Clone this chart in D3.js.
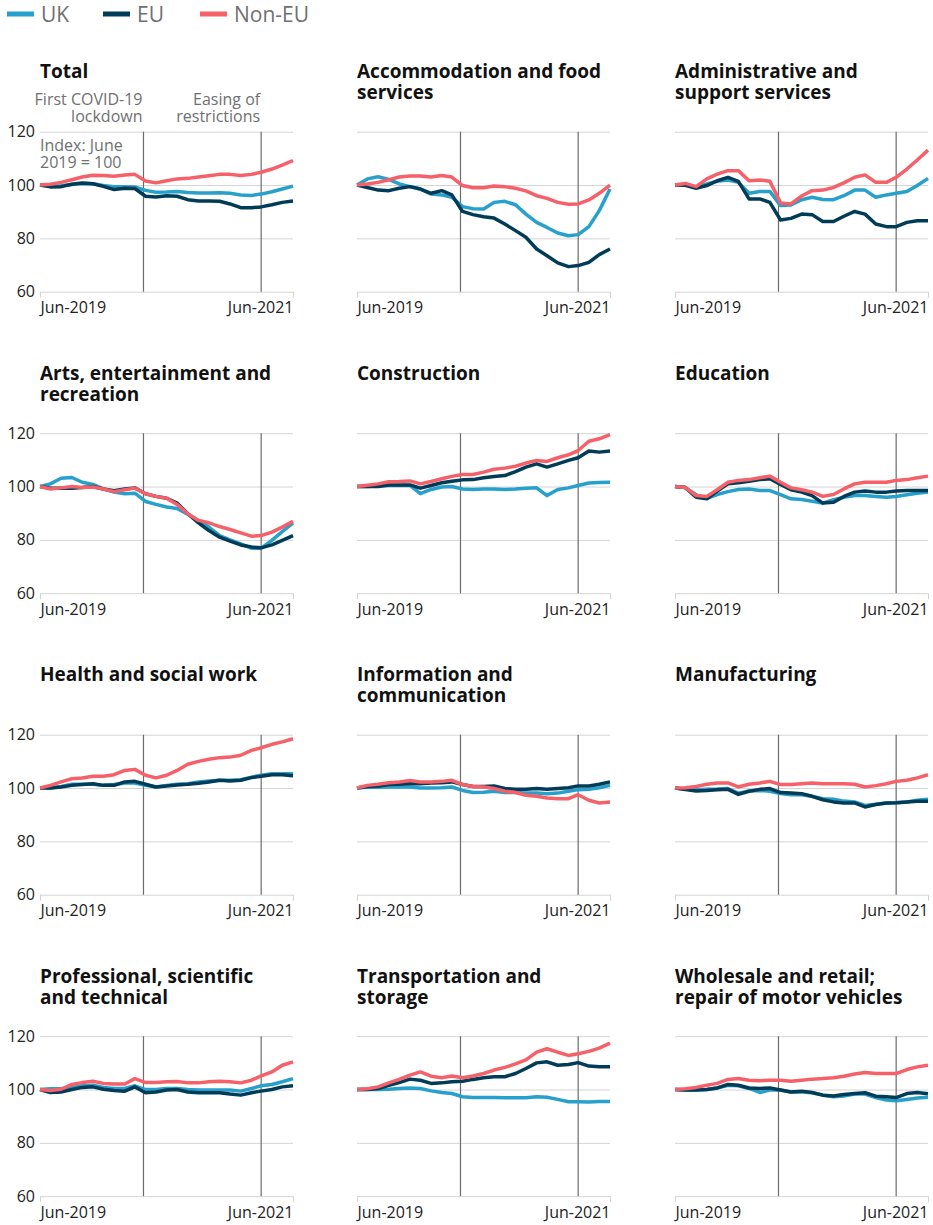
<!DOCTYPE html>
<html>
<head>
<meta charset="utf-8">
<script src="https://cdn.jsdelivr.net/npm/d3@7"></script>
<style>
  html, body { margin: 0; padding: 0; background: #fff; }
  svg { display: block; font-family: "Open Sans", "Noto Sans", sans-serif; }
</style>
</head>
<body>
<svg id="chart" width="933" height="1225"></svg>
<script>
// ---------- DATA ----------
const months = ["2019-06","2019-07","2019-08","2019-09","2019-10","2019-11","2019-12",
  "2020-01","2020-02","2020-03","2020-04","2020-05","2020-06","2020-07","2020-08","2020-09",
  "2020-10","2020-11","2020-12","2021-01","2021-02","2021-03","2021-04","2021-05","2021-06"];
const xTickLabels = ["2019-06", "2021-06"];
const yTicks = [60, 80, 100, 120];
const seriesNames = ["UK", "EU", "Non-EU"];
const seriesColors = ["#27a0cc", "#003c57", "#f66068"];
const eventDates = ["2020-03-26", "2021-03-01"];
const eventLabels = [["First COVID-19", "lockdown"], ["Easing of", "restrictions"]];
const indexNote = ["Index: June", "2019 = 100"];

const sectors = [
  "Total", "Accommodation and food|services", "Administrative and|support services",
  "Arts, entertainment and|recreation", "Construction", "Education",
  "Health and social work", "Information and|communication", "Manufacturing",
  "Professional, scientific|and technical", "Transportation and|storage",
  "Wholesale and retail;|repair of motor vehicles"
];

const ukTotal = [100,99.6,99.7,100.2,100.6,100.5,99.8,99.4,99.4,99.3,98.0,97.3,97.4,97.6,97.2,97.0,97.0,97.1,96.9,96.3,96.1,96.6,97.5,98.5,99.6];
const euTotal = [100,99.3,99.4,100.3,100.8,100.5,99.5,98.3,98.8,98.7,95.8,95.5,96.0,95.8,94.5,94.0,94.0,93.9,92.9,91.5,91.5,91.8,92.6,93.5,94.0];
const nonEuTotal = [100,100.3,101.0,102.0,103.0,103.7,103.6,103.3,103.8,104.0,101.5,100.8,101.6,102.3,102.5,103.0,103.5,104.0,104.0,103.6,104.0,104.8,106.0,107.5,109.2];

const ukAccom = [100,102.3,103.1,102.1,100.4,99.4,98.5,96.6,96.3,95.4,91.9,91.1,91.0,93.5,93.9,92.6,89.1,86.0,84.1,82.0,81.0,81.4,84.4,90.4,98.5];
const euAccom = [100,99.1,98.1,97.9,98.8,99.4,98.5,96.9,97.9,96.3,90.1,88.9,88.1,87.6,85.4,82.9,80.4,76.0,73.5,70.8,69.4,69.8,71.0,73.9,76.0];
const nonEuAccom = [100,100.4,101.0,102.0,103.0,103.4,103.4,103.0,103.6,103.0,99.8,99.0,99.0,99.6,99.4,98.8,97.8,96.0,95.0,93.5,92.8,92.9,94.4,96.9,100.0];

const ukAdmin = [100,100.2,99.1,100.4,101.4,101.9,101.0,96.9,97.6,97.6,92.3,92.5,94.5,95.4,94.6,94.5,96.0,98.1,98.1,95.4,96.3,96.9,97.6,99.8,102.5];
const euAdmin = [100,99.9,98.8,99.8,101.6,102.9,101.4,94.8,94.8,93.5,86.9,87.5,89.1,88.9,86.3,86.3,88.3,90.1,89.1,85.4,84.4,84.4,86.0,86.6,86.6];
const nonEuAdmin = [100,100.6,99.4,102.3,104.1,105.4,105.4,101.6,101.9,101.4,93.3,92.9,95.9,97.9,98.1,99.1,100.8,102.9,103.8,101.0,101.0,102.9,106.0,109.4,113.1];

const ukArts = [100,101.0,103.1,103.4,101.6,100.8,99.1,97.9,97.3,97.5,94.4,93.3,92.3,91.8,89.6,87.3,84.8,81.6,80.0,78.5,76.9,76.9,79.8,83.1,86.4];
const euArts = [100,99.4,99.4,99.4,99.6,100.0,99.1,98.4,99.1,99.5,97.3,96.3,95.6,93.8,89.8,86.4,83.5,81.0,79.5,78.1,77.3,77.0,78.1,79.8,81.6];
const nonEuArts = [100,99.1,99.5,100.0,99.6,99.8,99.1,98.1,98.8,99.4,97.3,96.3,95.6,93.3,89.8,87.3,86.4,85.0,83.9,82.6,81.4,81.6,82.9,84.8,87.0];

const ukConstr = [100,100,100.3,100.4,100.4,100.4,97.3,98.9,99.8,100.0,99.1,98.9,99.1,99.1,98.9,99.1,99.4,99.5,96.6,98.9,99.5,100.4,101.3,101.5,101.6];
const euConstr = [100,100,100,100.6,100.6,100.6,99.4,100.4,101.4,102.0,102.5,102.6,103.3,103.8,104.1,105.6,107.3,108.5,107.3,108.5,109.8,110.8,113.3,112.9,113.3];
const nonEuConstr = [100,100.5,101.0,101.8,101.9,102.1,101.0,101.9,102.9,103.8,104.5,104.5,105.4,106.5,106.9,107.6,108.8,109.8,109.4,110.8,111.9,113.5,117.0,117.9,119.5];

const ukEduc = [100,99.6,96.9,95.6,97.0,98.1,98.9,99.1,98.5,98.5,97.0,95.4,95.1,94.5,93.8,95.1,96.0,96.6,96.6,96.3,96.0,96.3,96.9,97.5,97.9];
const euEduc = [100,99.6,96.0,95.4,98.3,101.0,101.4,102.0,102.6,102.9,100.8,98.8,97.9,96.6,93.8,94.1,96.3,97.9,98.3,97.9,97.9,98.3,98.5,98.5,98.5];
const nonEuEduc = [100,99.6,96.6,96.3,98.8,101.6,102.3,102.6,103.3,103.9,101.6,99.5,98.8,97.9,96.3,97.0,99.1,101.0,101.6,101.6,101.6,102.3,102.6,103.3,103.9];

const ukHealth = [100,100,100.6,101.4,101.4,101.4,101.0,101.3,101.9,101.9,101.0,100.4,101.0,101.4,101.6,102.3,102.6,102.9,102.9,103.1,104.1,104.8,105.4,105.4,105.4];
const euHealth = [100,100,100.4,101.0,101.3,101.6,101.0,101.0,102.3,102.5,101.4,100.4,100.8,101.1,101.4,101.8,102.3,102.9,102.6,102.9,103.9,104.4,105.0,105.0,104.6];
const nonEuHealth = [100,101.0,102.3,103.5,103.8,104.4,104.4,105.0,106.6,107.0,104.8,103.8,104.8,106.6,108.9,110.0,110.8,111.4,111.6,112.3,114.1,115.1,116.4,117.3,118.5];

const ukInfo = [100,100.3,100.3,100.4,100.4,100.4,100.0,100.0,100.1,100.4,99.1,98.3,98.4,98.8,98.3,98.3,98.1,98.1,97.9,98.1,98.8,99.4,99.5,100.1,101.0];
const euInfo = [100,100.6,100.8,101.3,101.4,101.6,101.6,101.9,102.0,102.3,101.3,100.6,100.6,100.8,99.8,99.5,99.5,99.8,99.5,99.8,100.1,100.8,100.8,101.4,102.3];
const nonEuInfo = [100,101.0,101.4,102.0,102.3,102.8,102.3,102.3,102.5,102.9,101.3,100.6,100.4,99.8,98.8,98.3,97.3,96.9,96.3,96.0,96.0,97.5,95.4,94.4,94.8];

const ukManuf = [100,99.6,99.4,99.5,99.6,99.8,98.1,98.9,99.1,98.8,97.9,97.5,97.5,96.9,96.0,95.8,95.1,94.8,93.5,93.9,94.4,94.5,94.8,95.4,95.8];
const euManuf = [100,99.4,98.9,99.1,99.4,99.5,97.6,98.8,99.5,99.8,98.3,98.1,97.9,96.9,95.6,94.8,94.4,94.4,92.9,93.8,94.4,94.5,94.8,95.0,95.0];
const nonEuManuf = [100,100.1,100.6,101.4,101.9,101.9,100.4,101.4,101.9,102.5,101.3,101.3,101.6,101.9,101.6,101.6,101.6,101.4,100.4,100.9,101.6,102.5,102.9,103.8,105.0];

const ukProf = [100,100.3,100.3,100.8,101.4,101.6,100.8,100.4,100.4,101.4,100.0,100.0,100.4,100.4,100.0,99.8,99.8,99.8,99.8,99.4,100.4,101.4,101.9,102.9,104.1];
const euProf = [100,98.9,99.1,100.0,100.8,101.0,100.1,99.6,99.4,101.0,98.8,99.1,99.8,100.0,99.1,98.8,98.8,98.8,98.3,97.9,98.8,99.4,100.0,101.0,101.4];
const nonEuProf = [100,99.6,100.1,101.9,102.6,103.1,102.3,102.1,102.1,104.1,102.6,102.6,102.9,103.0,102.5,102.5,102.9,103.1,102.9,102.5,103.5,105.1,106.6,109.1,110.4];

const ukTransp = [100,100,100,100.1,100.4,100.6,100.4,99.5,98.9,98.5,97.3,97.0,97.0,97.0,96.9,96.9,96.9,97.3,97.1,96.3,95.4,95.4,95.3,95.5,95.5];
const euTransp = [100,100,100.4,101.6,102.6,103.9,103.5,102.3,102.5,102.9,103.1,103.8,104.4,104.8,104.8,106.0,107.9,110.0,110.4,109.1,109.4,110.1,108.8,108.5,108.5];
const nonEuTransp = [100,100.3,101.0,102.5,103.8,105.4,106.6,105.0,104.4,105.1,104.4,105.1,106.0,107.3,108.3,109.6,111.1,114.0,115.3,114.0,112.8,113.4,114.3,115.5,117.4];

const ukWhole = [100,99.8,99.8,100.0,100.6,101.6,101.4,100.4,98.9,99.8,99.8,99.1,99.1,98.8,97.9,97.3,97.6,98.3,98.3,97.0,96.1,95.8,96.3,96.8,97.1];
const euWhole = [100,99.8,99.8,100.0,100.6,101.9,101.6,100.6,100.4,100.6,99.8,99.1,99.4,98.9,97.9,97.6,98.1,98.5,98.8,97.5,97.3,97.0,98.5,98.9,98.4];
const nonEuWhole = [100,100.3,100.8,101.6,102.3,103.8,104.1,103.5,103.3,103.5,103.5,103.1,103.5,103.9,104.1,104.4,105.0,105.8,106.4,106.0,106.0,106.0,107.5,108.5,109.1];

// table built from the named arrays
const panelSeries = [
  [ukTotal, euTotal, nonEuTotal], [ukAccom, euAccom, nonEuAccom], [ukAdmin, euAdmin, nonEuAdmin],
  [ukArts, euArts, nonEuArts], [ukConstr, euConstr, nonEuConstr], [ukEduc, euEduc, nonEuEduc],
  [ukHealth, euHealth, nonEuHealth], [ukInfo, euInfo, nonEuInfo], [ukManuf, euManuf, nonEuManuf],
  [ukProf, euProf, nonEuProf], [ukTransp, euTransp, nonEuTransp], [ukWhole, euWhole, nonEuWhole]
];

// ---------- LAYOUT ----------
const svg = d3.select("#chart");
const parseMonth = d3.timeParse("%Y-%m");
const parseDay = d3.timeParse("%Y-%m-%d");
const dates = months.map(parseMonth);
const colX = [40, 357, 675];
const plotW = 253, plotH = 160;
const rowTop = r => 131.7 + 301.5 * r;
const textGrey = "#707070";

const x = d3.scaleTime().domain(d3.extent(dates)).range([0, plotW]);
const y = d3.scaleLinear().domain([60, 120]).range([plotH, 0]);
const line = d3.line().x((d, i) => x(dates[i])).y(d => y(d));

// multi-line text as a single text element with tspans
function multiText(parent, lines, xPos, yPos, lh) {
  const t = parent.append("text").attr("x", xPos).attr("y", yPos);
  lines.forEach((l, k) => {
    t.append("tspan").attr("x", xPos).attr("dy", k === 0 ? 0 : lh).text(l);
  });
  return t;
}

// legend
const legend = svg.append("g").attr("transform", "translate(0,14)");
const legendX = [7, 103, 200];
seriesNames.forEach((name, i) => {
  const g = legend.append("g").attr("transform", `translate(${legendX[i]},0)`);
  g.append("line").attr("x1", 0).attr("x2", 27).attr("y1", 0).attr("y2", 0)
    .attr("stroke", seriesColors[i]).attr("stroke-width", 5);
  g.append("text").attr("x", 34).attr("y", 7.5).attr("font-size", 21)
    .attr("fill", textGrey).text(name);
});

sectors.forEach((title, p) => {
  const col = p % 3, row = Math.floor(p / 3);
  const g = svg.append("g").attr("transform", `translate(${colX[col]},${rowTop(row)})`);

  // title
  multiText(g, title.split("|"), 0, -53.5, 21)
    .attr("font-size", 19).attr("font-weight", 700).attr("fill", "#111");

  // y gridlines / labels
  const yAxis = d3.axisLeft(y).tickValues(yTicks).tickSize(-plotW).tickPadding(5);
  const yg = g.append("g").call(yAxis);
  yg.select(".domain").remove();
  yg.selectAll(".tick line").attr("stroke", "#d4d4d4").attr("stroke-width", 1);
  yg.selectAll(".tick text").attr("font-size", 16).attr("fill", "#222")
    .attr("font-family", "'Open Sans', sans-serif");
  if (col !== 0) yg.selectAll(".tick text").remove();

  // x axis
  const xAxis = d3.axisBottom(x).tickValues(xTickLabels.map(parseMonth))
    .tickFormat(d3.timeFormat("%b-%Y")).tickSize(6).tickPadding(4);
  const xg = g.append("g").attr("transform", `translate(0,${plotH})`).call(xAxis);
  xg.select(".domain").remove();
  xg.selectAll(".tick line").attr("stroke", "#d4d4d4");
  xg.selectAll(".tick text").attr("font-size", 16).attr("fill", "#222")
    .attr("font-family", "'Open Sans', sans-serif")
    .attr("text-anchor", (d, i) => i === 0 ? "start" : "end");

  // event lines
  eventDates.forEach((ed, k) => {
    const ex = x(parseDay(ed));
    g.append("line").attr("x1", ex).attr("x2", ex).attr("y1", y(120)).attr("y2", y(60))
      .attr("stroke", "#6b6b6b").attr("stroke-width", 1.2);
    if (p === 0) {
      multiText(g, eventLabels[k], ex - 1, -27, 17)
        .attr("text-anchor", "end").attr("font-size", 16).attr("fill", textGrey);
    }
  });

  if (p === 0) {
    multiText(g, indexNote, 0, 19.5, 17).attr("font-size", 16).attr("fill", textGrey);
  }

  // series lines
  panelSeries[p].forEach((vals, s) => {
    g.append("path").datum(vals).attr("d", line).attr("fill", "none")
      .attr("stroke", seriesColors[s]).attr("stroke-width", 3.5)
      .attr("stroke-linejoin", "round").attr("stroke-linecap", "butt");
  });
});
</script>
</body>
</html>
